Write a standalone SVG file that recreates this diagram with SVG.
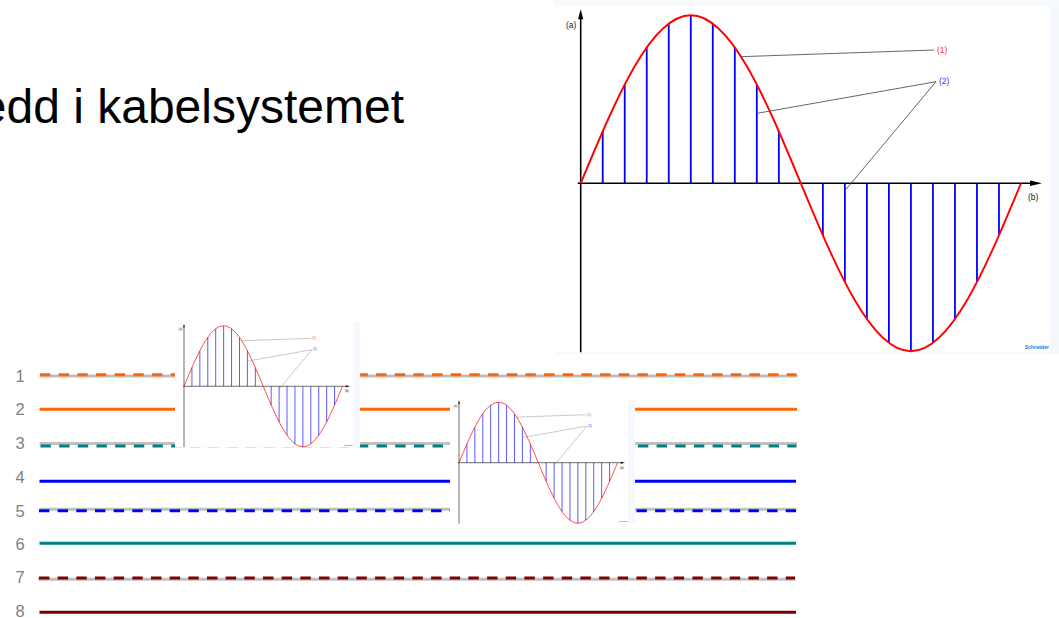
<svg xmlns="http://www.w3.org/2000/svg" xmlns:xlink="http://www.w3.org/1999/xlink" width="1059" height="618" viewBox="0 0 1059 618">
<style>
.title{font-family:"Liberation Sans",Arial,sans-serif;font-size:48px;fill:#000}
.num{font-family:"Liberation Sans",Arial,sans-serif;font-size:16.5px;fill:#808080;text-anchor:middle}
.lbl{font-family:"Liberation Sans",Arial,sans-serif;font-size:8.5px}
.gray{stroke:#c0c0c0;stroke-width:3;fill:none}
.solid{stroke-width:3;fill:none}
.dash{stroke-width:3;fill:none;stroke-dasharray:10.4 8.27}
.axis{stroke:#000;stroke-width:1.6;fill:none}
.samp{stroke:#0000ff;stroke-width:1.8}
.lead{stroke:#555;stroke-width:0.9;fill:none}
</style>
<defs>
<g id="chart">
<rect x="-25" y="-177" width="514" height="347" fill="#ffffff"/>
<rect x="469.3" y="-177" width="19.7" height="347" fill="#f5f9fe"/>
<line x1="-25" y1="170" x2="489" y2="170" stroke="#f0f3f7" stroke-width="1"/>
<g class="samp">
<line x1="22.02" y1="0" x2="22.02" y2="-51.92"/>
<line x1="44.03" y1="0" x2="44.03" y2="-98.75"/>
<line x1="66.05" y1="0" x2="66.05" y2="-135.92"/>
<line x1="88.06" y1="0" x2="88.06" y2="-159.78"/>
<line x1="110.08" y1="0" x2="110.08" y2="-168"/>
<line x1="132.09" y1="0" x2="132.09" y2="-159.78"/>
<line x1="154.11" y1="0" x2="154.11" y2="-135.92"/>
<line x1="176.12" y1="0" x2="176.12" y2="-98.75"/>
<line x1="198.14" y1="0" x2="198.14" y2="-51.92"/>
<line x1="242.17" y1="0" x2="242.17" y2="51.92"/>
<line x1="264.18" y1="0" x2="264.18" y2="98.75"/>
<line x1="286.2" y1="0" x2="286.2" y2="135.92"/>
<line x1="308.21" y1="0" x2="308.21" y2="159.78"/>
<line x1="330.23" y1="0" x2="330.23" y2="168"/>
<line x1="352.24" y1="0" x2="352.24" y2="159.78"/>
<line x1="374.26" y1="0" x2="374.26" y2="135.92"/>
<line x1="396.27" y1="0" x2="396.27" y2="98.75"/>
<line x1="418.29" y1="0" x2="418.29" y2="51.92"/>
</g>
<line class="axis" x1="0" y1="169" x2="0" y2="-165"/>
<polygon points="0,-174 -2.6,-164 2.6,-164" fill="#000"/>
<line class="axis" x1="-3" y1="0" x2="452" y2="0"/>
<polygon points="461.3,0 449.3,-2.8 449.3,2.8" fill="#000"/>
<path d="M0,0 C35.9,-86.07 70.24,-168 110.075,-168 C149.91,-168 184.25,-86.07 220.15,0 C256.05,86.07 290.39,168 330.225,168 C370.06,168 404.4,86.07 440.3,0" stroke="#ff0000" stroke-width="1.9" fill="none"/>
<polyline class="lead" points="160,-126.6 353.3,-133.3"/>
<polyline class="lead" points="176.6,-70 355.3,-101.6 264.5,7"/>
<text class="lbl" x="356.3" y="-130.3" fill="#ff3030">(1)</text>
<text class="lbl" x="358.3" y="-99.6" fill="#3030ff">(2)</text>
<text class="lbl" x="-14.7" y="-155.5" fill="#222">(a)</text>
<text class="lbl" x="447.3" y="16.3" fill="#222">(b)</text>
<text x="444" y="166" font-family="Liberation Sans,Arial,sans-serif" font-size="5" font-style="italic" font-weight="bold" fill="#2a7be0">Schneider</text>
</g>
</defs>

<g id="title"><text class="title" x="404" y="123" text-anchor="end">edd i kabelsystemet</text></g>

<g id="big-chart">
<rect x="555" y="0" width="504" height="6.5" fill="#f7fafd"/>
<use xlink:href="#chart" href="#chart" transform="translate(580.7,183.3)"/>
</g>

<g id="wire-numbers">
<text class="num" x="20" y="381.6">1</text>
<text class="num" x="20" y="415.2">2</text>
<text class="num" x="20" y="449.2">3</text>
<text class="num" x="20" y="483.2">4</text>
<text class="num" x="20" y="516.6">5</text>
<text class="num" x="20" y="549.9">6</text>
<text class="num" x="20" y="583.2">7</text>
<text class="num" x="20" y="616.6">8</text>
</g>

<g id="connectors">
<g id="wire1"><line class="gray" x1="39.5" y1="376" x2="797.5" y2="376"/><line class="dash" stroke="#ff6600" x1="40" y1="374.7" x2="796.5" y2="374.7"/></g>
<g id="wire2"><line class="solid" stroke="#ff6600" x1="39.5" y1="409.3" x2="797" y2="409.3"/></g>
<g id="wire3"><line class="gray" x1="39.5" y1="443.5" x2="797" y2="443.5"/><line class="dash" stroke="#008080" x1="40.5" y1="446" x2="796.5" y2="446"/></g>
<g id="wire4"><line class="solid" stroke="#0000ff" x1="39.5" y1="481.3" x2="796" y2="481.3"/></g>
<g id="wire5"><line class="gray" x1="39.5" y1="509.2" x2="796.5" y2="509.2"/><line class="dash" stroke="#0000ff" x1="39" y1="510.7" x2="796" y2="510.7"/></g>
<g id="wire6"><line class="solid" stroke="#008080" x1="39.5" y1="543.3" x2="796" y2="543.3"/></g>
<g id="wire7"><line class="gray" x1="38" y1="579.3" x2="795.5" y2="579.3"/><line class="dash" stroke="#800000" x1="39" y1="578" x2="795" y2="578"/></g>
<g id="wire8"><line class="solid" stroke="#7a0000" x1="39.5" y1="612.3" x2="796" y2="612.3"/></g>
</g>

<g id="small-chart-1"><use xlink:href="#chart" href="#chart" transform="translate(184,386.3) scale(0.36)"/></g>
<g id="small-chart-2"><use xlink:href="#chart" href="#chart" transform="translate(459,462.7) scale(0.36)"/></g>
</svg>
